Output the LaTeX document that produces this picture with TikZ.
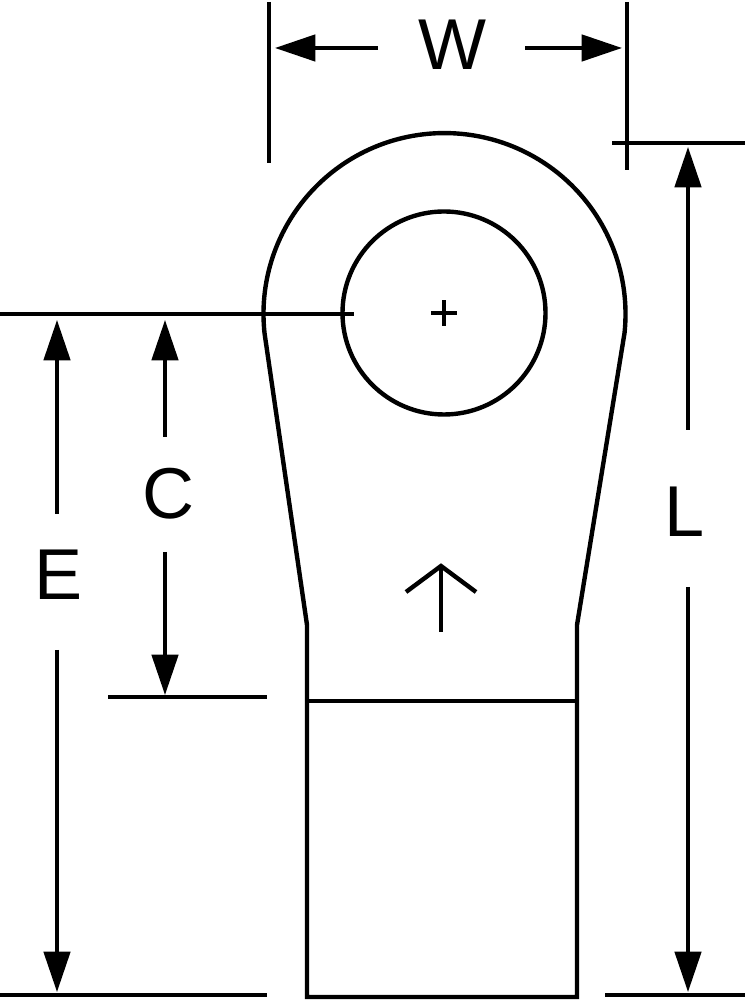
\documentclass[tikz,border=0pt]{standalone}
\usepackage{fontspec}
\setmainfont{Liberation Sans}
\usetikzlibrary{arrows.meta}
\tikzset{
  part/.style={line width=2.5pt, draw=black},
  dimline/.style={line width=2.1pt, draw=black},
  dimarrow/.style={line width=2.1pt, draw=black, -{Triangle[length=23pt,width=15pt]}},
  dimlabel/.style={inner sep=0pt, font=\fontsize{41}{41}\selectfont}
}
\begin{document}
\begin{tikzpicture}[x=0.02cm,y=0.02cm]
\useasboundingbox (0,0) rectangle (745,1000);
% lug outline
\coordinate (bl) at (307,3);
\coordinate (br) at (577,3);
\coordinate (nl) at (307,375);
\coordinate (nr) at (577,375);
\coordinate (sl) at (264.5,667);
\coordinate (sr) at (624.5,667);
\draw [part] (bl) -- (nl) -- (sl) arc [start angle=186, end angle=-6, radius=181] -- (nr) -- (br) -- cycle;
\coordinate (bandl) at (307,299);
\coordinate (bandr) at (577,299);
\draw [part] (bandl) -- (bandr);
% stud hole
\node [circle, part, minimum size=203*0.02cm, inner sep=0pt] (hole) at (444,687) {};
\coordinate (pl) at (431,687);
\coordinate (pr) at (457,687);
\coordinate (pb) at (444,674);
\coordinate (pt) at (444,700);
\draw [dimline] (pl) -- (pr);
\draw [dimline] (pb) -- (pt);
% arrow on the barrel
\coordinate (aa) at (441,368);
\coordinate (ab) at (441,434);
\coordinate (ac) at (406,408);
\coordinate (ad) at (476,408);
\draw [part] (aa) -- (ab);
\draw [part] (ac) -- (ab) -- (ad);
% W
\node [dimlabel] (W) at (452,955) {W};
\coordinate (wl) at (275,952);
\coordinate (wr) at (622,952);
\coordinate (wla) at (378,952);
\coordinate (wra) at (525,952);
\coordinate (wlt) at (269,998);
\coordinate (wlb) at (269,837);
\coordinate (wrt) at (627,998);
\coordinate (wrb) at (627,830);
\draw [dimline] (wlt) -- (wlb);
\draw [dimline] (wrt) -- (wrb);
\draw [dimarrow] (wla) -- (wl);
\draw [dimarrow] (wra) -- (wr);
% L
\node [dimlabel] (L) at (685,488) {L};
\coordinate (lt) at (688,853);
\coordinate (lb) at (688,8);
\coordinate (lta) at (688,570);
\coordinate (lba) at (688,413);
\coordinate (lt1) at (612,857);
\coordinate (lt2) at (745,857);
\coordinate (lb1) at (605,5);
\coordinate (lb2) at (745,5);
\draw [dimline] (lt1) -- (lt2);
\draw [dimline] (lb1) -- (lb2);
\draw [dimarrow] (lta) -- (lt);
\draw [dimarrow] (lba) -- (lb);
% E
\node [dimlabel] (E) at (59,425) {E};
\coordinate (et) at (57,680);
\coordinate (eb) at (57,8);
\coordinate (eta) at (57,486);
\coordinate (eba) at (57,350);
\coordinate (e1) at (0,686);
\coordinate (e2) at (354,686);
\coordinate (e3) at (0,5);
\coordinate (e4) at (267,5);
\draw [dimline] (e1) -- (e2);
\draw [dimline] (e3) -- (e4);
\draw [dimarrow] (eta) -- (et);
\draw [dimarrow] (eba) -- (eb);
% C
\node [dimlabel] (C) at (169,506) {C};
\coordinate (ct) at (165,680);
\coordinate (cb) at (165,305);
\coordinate (cta) at (165,563);
\coordinate (cba) at (165,448);
\coordinate (c1) at (108,303);
\coordinate (c2) at (267,303);
\draw [dimline] (c1) -- (c2);
\draw [dimarrow] (cta) -- (ct);
\draw [dimarrow] (cba) -- (cb);
\end{tikzpicture}
\end{document}
